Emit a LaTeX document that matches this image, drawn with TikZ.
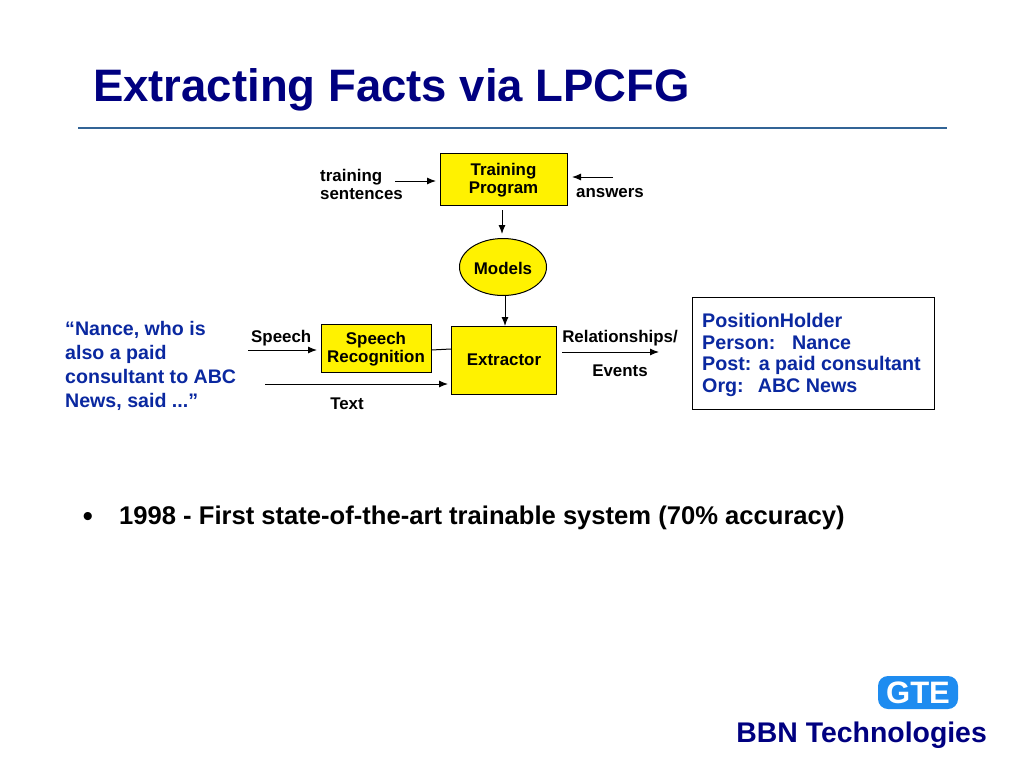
\documentclass[tikz,border=0pt]{standalone}
\usepackage{fontspec}
\setmainfont{Liberation Sans}
\usetikzlibrary{arrows.meta, shapes.geometric}
\definecolor{navy}{RGB}{0,0,128}
\definecolor{quote}{RGB}{10,40,160}
\definecolor{rule}{RGB}{50,100,150}
\definecolor{logo}{RGB}{30,140,240}
\tikzset{
    box/.style={draw=black, fill=yellow, line width=1pt, inner sep=0pt},
    boxtext/.style={align=center, inner sep=0pt, yshift=-1.5pt, font=\fontsize{16.9}{18}\selectfont\bfseries},
    lbl/.style={align=left, inner sep=0pt, font=\fontsize{16.9}{18}\selectfont\bfseries},
    flow/.style={-{Latex[length=9pt,width=7pt]}, line width=1pt},
}
\begin{document}
\begin{tikzpicture}[x=1pt,y=-1pt]
\useasboundingbox (0,0) rectangle (1024,768);
\node[inner sep=0pt, anchor=base west, text=navy, font=\fontsize{45.5}{50}\selectfont\bfseries] (title) at (93,101) {Extracting Facts via LPCFG};
\coordinate (ruleL) at (78,128);
\coordinate (ruleR) at (947,128);
\draw[rule, line width=1.2pt] (ruleL) -- (ruleR);

\node[box, minimum width=127pt, minimum height=52pt, label={[boxtext]center:{Training\\Program}}] (train) at (503.5,179) {};
\node[box, ellipse, minimum width=87pt, minimum height=57pt, label={[boxtext]center:Models}] (models) at (503,267) {};
\node[box, minimum width=110pt, minimum height=48pt, label={[boxtext]center:{Speech\\Recognition}}] (speechrec) at (376,348) {};
\node[box, minimum width=105pt, minimum height=68pt, label={[boxtext,yshift=1.5pt]center:Extractor}] (extractor) at (504,360) {};
\node[draw=black, fill=white, line width=1pt, minimum width=242pt, minimum height=112pt] (output) at (813.5,353) {};

\node[lbl, anchor=north west] (sentences) at (320,169.5) {training\\sentences};
\node[lbl, anchor=west] (answers) at (576,193) {answers};
\node[lbl, anchor=west] (speech) at (251,338) {Speech};
\node[lbl, anchor=center] (text) at (347,403.5) {Text};
\node[lbl, anchor=center] (rel) at (620,338) {Relationships/};
\node[lbl, anchor=center] (events) at (620,370.5) {Events};

\node[anchor=north west, align=left, inner sep=0pt, text=quote, font=\fontsize{19.6}{24}\selectfont\bfseries] (quote) at (65,321)
    {“Nance, who is\\also a paid\\consultant to ABC\\News, said ...”};
\node[anchor=north west, align=left, inner sep=0pt, text=quote, font=\fontsize{19.7}{21.7}\selectfont\bfseries] (holder) at (702,313)
    {PositionHolder\\Person:\hspace{16.5pt}Nance\\Post: a paid consultant\\Org:\hspace{14pt}ABC News};

% free ends of the connectors
\coordinate (trainIn) at (395,181);
\coordinate (trainEnd) at (436,181);
\coordinate (ansIn) at (613,177);
\coordinate (ansEnd) at (572,177);
\coordinate (speechIn) at (248,350);
\coordinate (speechEnd) at (317,350);
\coordinate (textIn) at (265,384);
\coordinate (textEnd) at (448,384);
\coordinate (relOut) at (562,352);
\coordinate (relEnd) at (659,352);
\coordinate (modTop) at (502,210);
\coordinate (modEnd) at (502,234);
\coordinate (extrTop) at (505,296);
\coordinate (extrEnd) at (505,326);

\draw[flow] (trainIn) -- (trainEnd);
\draw[flow] (ansIn) -- (ansEnd);
\draw[flow] (modTop) -- (modEnd);
\draw[flow] (extrTop) -- (extrEnd);
\draw[flow] (speechIn) -- (speechEnd);
\draw[line width=1pt] (speechrec.east |- 0,350) -- (extractor.west |- 0,349);
\draw[flow] (textIn) -- (textEnd);
\draw[flow] (relOut) -- (relEnd);

\node[inner sep=0pt, font=\fontsize{30}{30}\selectfont] (dot) at (88,519) {•};
\node[anchor=base west, inner sep=0pt, font=\fontsize{25.6}{28}\selectfont\bfseries] (bullet) at (119,524) {1998 - First state-of-the-art trainable system (70\% accuracy)};

\node[fill=logo, rounded corners=10pt, minimum width=80pt, minimum height=33pt, inner sep=0pt, text=white, font=\fontsize{31}{31}\selectfont\bfseries] (gte) at (918,692.5) {GTE};
\node[anchor=base east, inner sep=0pt, text=navy, font=\fontsize{28.4}{30}\selectfont\bfseries] (bbn) at (987,742) {BBN Technologies};
\end{tikzpicture}
\end{document}
